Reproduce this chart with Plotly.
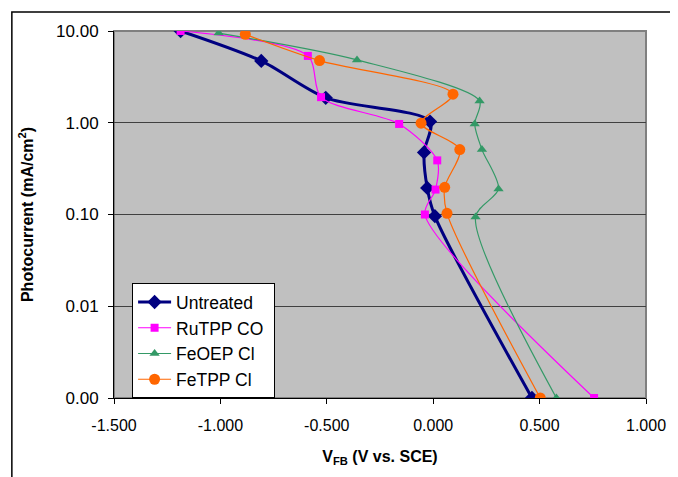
import plotly.graph_objects as go

# Data (V vs SCE, photocurrent mA/cm2)
untreated_x = [-1.187, -0.808, -0.505, -0.015, -0.043, -0.028, 0.008, 0.464]
untreated_y = [10.0, 4.72, 1.87, 1.03, 0.475, 0.195, 0.096, 0.001]

rutpp_x = [-1.187, -0.589, -0.527, -0.160, 0.019, 0.011, -0.039, 0.756]
rutpp_y = [10.0, 5.35, 1.90, 0.97, 0.389, 0.187, 0.100, 0.001]

feoep_x = [-1.008, -0.358, 0.218, 0.195, 0.229, 0.307, 0.199, 0.579]
feoep_y = [9.5, 4.84, 1.73, 0.97, 0.51, 0.19, 0.094, 0.001]

fetpp_x = [-0.883, -0.534, 0.093, -0.057, 0.125, 0.054, 0.065, 0.503]
fetpp_y = [9.2, 4.76, 2.05, 0.99, 0.51, 0.198, 0.103, 0.001]

series_names = ["Untreated", "RuTPP CO", "FeOEP Cl", "FeTPP Cl"]

x_tickvals = [-1.5, -1.0, -0.5, 0.0, 0.5, 1.0]
x_ticktext = ["-1.500", "-1.000", "-0.500", "0.000", "0.500", "1.000"]
y_tickvals = [0.001, 0.01, 0.1, 1, 10]
y_ticktext = ["0.00", "0.01", "0.10", "1.00", "10.00"]

FONT = "Liberation Sans, Arial, sans-serif"

fig = go.Figure()

series = [
    (series_names[0], untreated_x, untreated_y, "#000080", 3, "diamond", 11),
    (series_names[1], rutpp_x, rutpp_y, "#FF00FF", 1.2, "square", 8),
    (series_names[2], feoep_x, feoep_y, "#339966", 1.2, "triangle-up", 9),
    (series_names[3], fetpp_x, fetpp_y, "#FF6600", 1.2, "circle", 11),
]
for name, xs, ys, col, w, sym, ms in series:
    fig.add_trace(go.Scatter(
        x=xs, y=ys, name=name + "\u00a0", mode="lines+markers",
        line=dict(color=col, width=w, shape="spline", smoothing=0.8),
        marker=dict(symbol=sym, size=ms, color=col),
        legendgroup=name,
    ))

fig.update_layout(
    width=670, height=469,
    margin=dict(l=106, r=27, t=23, b=79),
    paper_bgcolor="white",
    plot_bgcolor="#C0C0C0",
    font=dict(family=FONT, size=16, color="black"),
    showlegend=True,
    legend=dict(
        x=0.034, y=0.313, xanchor="left", yanchor="top",
        bgcolor="white", bordercolor="black", borderwidth=1,
        font=dict(size=17.5, family=FONT),
        tracegroupgap=0,
        itemwidth=33,
    ),
    xaxis=dict(
        range=[-1.5, 1.0], tickvals=x_tickvals, ticktext=x_ticktext,
        showgrid=False, zeroline=False,
        showline=True, linecolor="black", linewidth=1,
        ticks="outside", ticklen=5, tickcolor="black",
        tickfont=dict(size=16),
        ticklabelstandoff=8,
        title=dict(text="<b>V<sub>FB</sub> (V vs. SCE)</b>", font=dict(size=16), standoff=17),
    ),
    yaxis=dict(
        type="log", range=[-3, 1],
        tickvals=y_tickvals, ticktext=y_ticktext,
        showgrid=True, gridcolor="#404040", gridwidth=1,
        zeroline=False,
        showline=True, linecolor="black", linewidth=1,
        ticks="outside", ticklen=5, tickcolor="black",
        tickfont=dict(size=17),
        ticklabelstandoff=6,
        title=dict(text="<b>Photocurrent (mA/cm<sup>2</sup>)</b>", font=dict(size=16), standoff=18),
    ),
    shapes=[
        dict(type="rect", xref="paper", yref="paper", x0=0, y0=0, x1=1, y1=1,
             line=dict(color="#808080", width=2), layer="below"),
        dict(type="rect", xref="paper", yref="paper", x0=-0.192, y0=-0.6, x1=1.2, y1=1.0518,
             line=dict(color="black", width=1.5), fillcolor="rgba(0,0,0,0)", layer="below"),
    ],
)

fig.write_html("out.html")
